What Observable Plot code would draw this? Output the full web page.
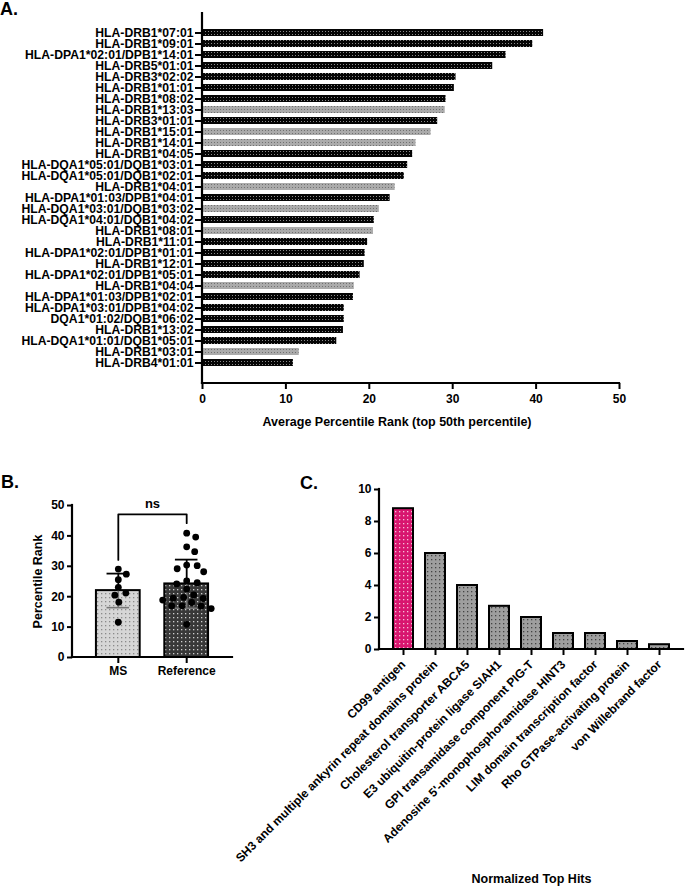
<!DOCTYPE html>
<html><head><meta charset="utf-8">
<script src="https://cdn.jsdelivr.net/npm/d3@7"></script>
<script src="https://cdn.jsdelivr.net/npm/@observablehq/plot@0.6"></script>
<style>
body{margin:0;background:#fff;font-family:"Liberation Sans",Arial,sans-serif;}
#wrap{position:relative;width:685px;height:889px;overflow:hidden;background:#fff;}
.panel{position:absolute;}
.tag{position:absolute;font-weight:bold;font-size:18px;line-height:1;color:#000;}
</style></head><body>
<svg width="0" height="0" style="position:absolute">
<defs>
<pattern id="patBlack" width="3" height="3" patternUnits="userSpaceOnUse"><rect width="3" height="3" fill="#050505"/><rect x="1" y="1" width="1" height="1" fill="#8c8c8c"/></pattern>
<pattern id="patGray" width="3" height="3" patternUnits="userSpaceOnUse"><rect width="3" height="3" fill="#ababab"/><rect x="1" y="1" width="1" height="1" fill="#707070"/></pattern>
<pattern id="patLight" width="4" height="4" patternUnits="userSpaceOnUse"><rect width="4" height="4" fill="#d6d6d6"/><rect x="1" y="1" width="1.3" height="1.3" fill="#8a8a8a"/></pattern>
<pattern id="patDark" width="4" height="4" patternUnits="userSpaceOnUse"><rect width="4" height="4" fill="#383838"/><rect x="1" y="1" width="1.3" height="1.3" fill="#cfcfcf"/></pattern>
<pattern id="patC" width="4" height="4" patternUnits="userSpaceOnUse"><rect width="4" height="4" fill="#9e9e9e"/><rect x="1" y="1" width="1.3" height="1.3" fill="#444"/></pattern>
<pattern id="patPink" width="4" height="4" patternUnits="userSpaceOnUse"><rect width="4" height="4" fill="#d8166f"/><rect x="1" y="1" width="1.3" height="1.3" fill="#f6c0d8"/></pattern>
</defs></svg>
<div id="wrap">
  <div id="pc" class="panel" style="left:210px;top:470px"></div>
  <div id="pa" class="panel" style="left:0;top:0"></div>
  <div id="pb" class="panel" style="left:0;top:480px"></div>
  <div class="tag" style="left:0px;top:0px">A.</div>
  <div class="tag" style="left:1px;top:473px">B.</div>
  <div class="tag" style="left:300px;top:474px">C.</div>
</div>
<script>
// ---------- Panel A data ----------
const hlaAlleles = [
  "HLA-DRB1*07:01","HLA-DRB1*09:01","HLA-DPA1*02:01/DPB1*14:01","HLA-DRB5*01:01",
  "HLA-DRB3*02:02","HLA-DRB1*01:01","HLA-DRB1*08:02","HLA-DRB1*13:03",
  "HLA-DRB3*01:01","HLA-DRB1*15:01","HLA-DRB1*14:01","HLA-DRB1*04:05",
  "HLA-DQA1*05:01/DQB1*03:01","HLA-DQA1*05:01/DQB1*02:01","HLA-DRB1*04:01",
  "HLA-DPA1*01:03/DPB1*04:01","HLA-DQA1*03:01/DQB1*03:02","HLA-DQA1*04:01/DQB1*04:02",
  "HLA-DRB1*08:01","HLA-DRB1*11:01","HLA-DPA1*02:01/DPB1*01:01","HLA-DRB1*12:01",
  "HLA-DPA1*02:01/DPB1*05:01","HLA-DRB1*04:04","HLA-DPA1*01:03/DPB1*02:01",
  "HLA-DPA1*03:01/DPB1*04:02","DQA1*01:02/DQB1*06:02","HLA-DRB1*13:02",
  "HLA-DQA1*01:01/DQB1*05:01","HLA-DRB1*03:01","HLA-DRB4*01:01"
];
const hlaRank = [40.9,39.6,36.4,34.8,30.4,30.2,29.2,29.1,28.2,27.4,25.6,25.2,24.6,24.2,23.1,
  22.5,21.2,20.6,20.5,19.8,19.5,19.4,18.9,18.2,18.1,17.0,17.0,16.9,16.1,11.6,10.9];
const hlaMS = [0,0,0,0,0,0,0,1,0,1,1,0,0,0,1,0,1,0,1,0,0,0,0,1,0,0,0,0,0,1,0];
const aTicks = [0,10,20,30,40,50];
const aTitle = "Average Percentile Rank (top 50th percentile)";

// ---------- Panel B data ----------
const bGroups = ["MS","Reference"];
const bMeans = [22.0, 24.2];
const bLow = [16.4, 16.2];
const bHigh = [27.6, 32.2];
const msPoints = [29.1,27.4,25.6,23.1,21.2,20.5,18.2,11.6];
const refPoints = [40.9,39.6,36.4,34.8,30.4,30.2,29.2,28.2,25.2,24.6,24.2,22.5,20.6,19.8,19.5,19.4,18.9,18.1,17.0,17.0,16.9,16.1,10.9];
const bTicks = [0,10,20,30,40,50];
const bracketX = [0,0,1,1];
const bracketY = [32.1,47.1,47.1,44.2];
const bSig = "ns";
const bYTitle = "Percentile Rank";

// ---------- Panel C data ----------
const hitNames = ["CD99 antigen","SH3 and multiple ankyrin repeat domains protein",
  "Cholesterol transporter ABCA5","E3 ubiquitin-protein ligase SIAH1",
  "GPI transamidase component PIG-T","Adenosine 5'-monophosphoramidase HINT3",
  "LIM domain transcription factor","Rho GTPase-activating protein","von Willebrand factor"];
const hitValues = [8.8,6.0,4.0,2.7,2.0,1.0,1.0,0.5,0.3];
const cTicks = [0,2,4,6,8,10];
const cTitle = "Normalized Top Hits";

const FONT = '"Liberation Sans", Arial, sans-serif';
const baseStyle = {fontFamily: FONT, fontSize: "12px", fontWeight: "bold", color: "#000", background: "transparent", overflow: "visible"};

// axis lines drawn at the frame edges
const frameLines = (sides, sw = 2.2) => (index, scales, values, d) => {
  const g = d3.create("svg:g").attr("stroke", "#000").attr("stroke-width", sw).attr("stroke-linecap", "square");
  const x0 = d.marginLeft, x1 = d.width - d.marginRight, y0 = d.marginTop, y1 = d.height - d.marginBottom;
  if (sides.includes("left")) g.append("line").attr("x1", x0).attr("x2", x0).attr("y1", y0).attr("y2", y1);
  if (sides.includes("bottom")) g.append("line").attr("x1", x0).attr("x2", x1).attr("y1", y1).attr("y2", y1);
  return g.node();
};

// ---------- Panel A ----------
const rowsA = hlaAlleles.map((a, i) => ({allele: a, rank: hlaRank[i], ms: hlaMS[i]}));
const plotA = Plot.plot({
  width: 685, height: 445,
  marginLeft: 202, marginRight: 66, marginTop: 13, marginBottom: 62,
  style: baseStyle,
  x: {domain: [0, 50]},
  y: {domain: hlaAlleles, paddingInner: 0.35, paddingOuter: 0.5},
  marks: [
    Plot.barX(rowsA.filter(d => !d.ms), {x: "rank", y: "allele", fill: "url(#patBlack)"}),
    Plot.barX(rowsA.filter(d => d.ms), {x: "rank", y: "allele", fill: "url(#patGray)"}),
    Plot.axisY({tickSize: 7, tickPadding: 2, strokeWidth: 2, label: null, fontSize: 12.2}),
    Plot.axisX({ticks: aTicks, tickSize: 6, tickPadding: 5, strokeWidth: 2, label: null, fontSize: 12}),
    frameLines(["left", "bottom"]),
    Plot.text([aTitle], {frameAnchor: "bottom", dy: 42, dx: -14, fontSize: 12.5, fontWeight: "bold"})
  ]
});
document.getElementById("pa").append(plotA);

// ---------- Panel B ----------
const bW = 245, bH = 205, bML = 72, bMR = 13, bMT = 25, bMB = 28;
const bXdom = [-0.67, 1.67];
const pxX = (bW - bML - bMR) / (bXdom[1] - bXdom[0]);
const pxY = (bH - bMT - bMB) / 50;
// deterministic column-scatter layout (elliptical collision: wide horizontal spacing)
function swarm(values, center, sx, sy) {
  const placed = [];
  const out = new Array(values.length);
  const order = values.map((v, i) => i).sort((a, b) => values[b] - values[a]);
  for (const i of order) {
    const y = values[i] * pxY;
    let off = 0;
    for (let k = 0; k < 400; k++) {
      const cand = (k % 2 ? 1 : -1) * Math.ceil(k / 2) * 0.5;
      if (placed.every(p => ((p.x - cand) / sx) ** 2 + ((p.y - y) / sy) ** 2 >= 1)) { off = cand; break; }
    }
    placed.push({x: off, y});
    out[i] = center + off / pxX;
  }
  return out;
}
const R = 3.4;
const msX = swarm(msPoints, 0, 11, 7.5);
const refX = swarm(refPoints, 1, 10.5, 7.5);
const ptsB = [
  ...msPoints.map((v, i) => ({x: msX[i], v})),
  ...refPoints.map((v, i) => ({x: refX[i], v}))
];
const barsB = bGroups.map((g, i) => ({g, pos: i, mean: bMeans[i], lo: bLow[i], hi: bHigh[i]}));
const bracket = bracketX.map((x, i) => ({x, y: bracketY[i]}));
const plotB = Plot.plot({
  width: bW, height: bH, marginLeft: bML, marginRight: bMR, marginTop: bMT, marginBottom: bMB,
  style: baseStyle,
  x: {domain: bXdom},
  y: {domain: [0, 50]},
  marks: [
    Plot.rectY(barsB.slice(0, 1), {x1: d => d.pos - 0.32, x2: d => d.pos + 0.32, y: "mean", fill: "url(#patLight)", stroke: "#000", strokeWidth: 2}),
    Plot.rectY(barsB.slice(1), {x1: d => d.pos - 0.32, x2: d => d.pos + 0.32, y: "mean", fill: "url(#patDark)", stroke: "#000", strokeWidth: 2}),
    Plot.ruleX(barsB, {x: "pos", y1: "lo", y2: "mean", stroke: "#777", strokeWidth: 1.6}),
    Plot.ruleY(barsB, {y: "lo", x1: d => d.pos - 0.165, x2: d => d.pos + 0.165, stroke: "#777", strokeWidth: 1.6}),
    Plot.ruleX(barsB, {x: "pos", y1: "mean", y2: "hi", stroke: "#000", strokeWidth: 1.8}),
    Plot.ruleY(barsB, {y: "hi", x1: d => d.pos - 0.165, x2: d => d.pos + 0.165, stroke: "#000", strokeWidth: 1.8}),
    Plot.dot(ptsB, {x: "x", y: "v", r: R, fill: "#000"}),
    Plot.line(bracket, {x: "x", y: "y", stroke: "#000", strokeWidth: 1.8}),
    Plot.text([{x: 0.5, y: 50.6, t: bSig}], {x: "x", y: "y", text: "t", fontSize: 13, fontWeight: "bold"}),
    Plot.axisY({ticks: bTicks, tickSize: 5, tickPadding: 3, strokeWidth: 2, label: null, fontSize: 12}),
    Plot.axisX({ticks: [0, 1], tickFormat: i => bGroups[i], tickSize: 6, tickPadding: 3, strokeWidth: 2, label: null, fontSize: 12}),
    frameLines(["left", "bottom"]),
    Plot.text([bYTitle], {frameAnchor: "left", textAnchor: "middle", dx: -35, rotate: -90, fontSize: 12.5, fontWeight: "bold"})
  ]
});
document.getElementById("pb").append(plotB);

// ---------- Panel C ----------
const rowsC = hitNames.map((n, i) => ({name: n, v: hitValues[i]}));
const plotC = Plot.plot({
  width: 475, height: 419, marginLeft: 169, marginRight: 2, marginTop: 19, marginBottom: 240,
  style: baseStyle,
  x: {domain: hitNames, paddingInner: 0.36, paddingOuter: 0.36},
  y: {domain: [0, 10]},
  marks: [
    Plot.barY(rowsC.slice(0, 1), {x: "name", y: "v", fill: "url(#patPink)", stroke: "#000", strokeWidth: 2}),
    Plot.barY(rowsC.slice(1), {x: "name", y: "v", fill: "url(#patC)", stroke: "#000", strokeWidth: 2}),
    Plot.axisY({ticks: cTicks, tickSize: 5, tickPadding: 3, strokeWidth: 2, label: null, fontSize: 12}),
    Plot.axisX({tickRotate: -45, tickSize: 6, tickPadding: 7, strokeWidth: 2, label: null, fontSize: 12}),
    frameLines(["left", "bottom"]),
    Plot.text([cTitle], {frameAnchor: "bottom", dy: 233, fontSize: 12.5, fontWeight: "bold"})
  ]
});
document.getElementById("pc").append(plotC);
</script>
</body></html>
